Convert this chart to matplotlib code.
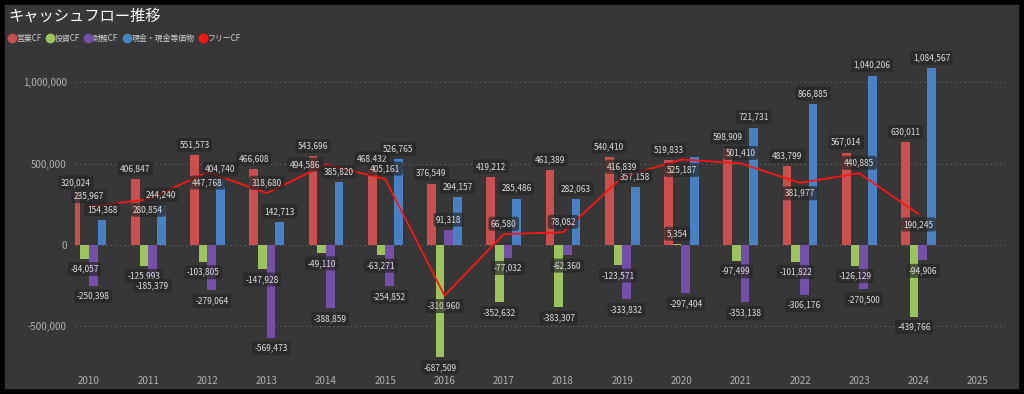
import matplotlib
matplotlib.use("Agg")
import matplotlib.pyplot as plt
import numpy as np
from matplotlib.lines import Line2D
from matplotlib.patches import Rectangle
from matplotlib.ticker import FuncFormatter

plt.rcParams['font.family'] = ['Noto Sans CJK JP', 'DejaVu Sans']

years = ['2010', '2011', '2012', '2013', '2014', '2015', '2016', '2017',
         '2018', '2019', '2020', '2021', '2022', '2023', '2024', '2025']
operating = [320024, 406847, 551573, 466608, 543696, 468432, 376549, 419212,
             461389, 540410, 519833, 598909, 483799, 567014, 630011, np.nan]
investing = [-84057, -125993, -103805, -147928, -49110, -63271, -687509, -352632,
             -383307, -123571, 5354, -97499, -101822, -126129, -439766, np.nan]
financing = [-250398, -185379, -279064, -569473, -388859, -254852, 91318, -77032,
             -62360, -333832, -297404, -353138, -306176, -270500, -94906, np.nan]
cash = [154368, 244240, 404740, 142713, 385820, 526765, 294157, 285486,
        282063, 357158, 538000, 721731, 866885, 1040206, 1084567, np.nan]
free_cf = [235967, 280854, 447768, 318680, 494586, 405161, -310960, 66580,
           78082, 416839, 525187, 501410, 381977, 440885, 190245, np.nan]

names = ['営業CF', '投資CF', '財務CF', '現金・現金等価物']
colors = ['#c9504f', '#9cc35d', '#7351a8', '#4a80c4']
line_color = '#ff1414'
bg = '#373737'

# where the free CF label sits next to its point (like Power BI placed them)
fcf_label_side = ['above', 'below', 'below', 'above', 'left', 'above', 'below', 'above',
                  'above', 'above', 'below', 'above', 'below', 'above', 'below', None]
# labels Power BI hid because of overlap
hidden = {(3, '2020')}

W, H = 1024, 394
fig = plt.figure(figsize=(W / 100, H / 100), dpi=100, facecolor=bg)
fig.patches.append(Rectangle((0, 0), 1, 1, transform=fig.transFigure, fill=False,
                             edgecolor='black', lw=7, zorder=10))

left, right, top, bottom = 75, 1005, 50, 370
ax = fig.add_axes([left / W, 1 - bottom / H, (right - left) / W, (bottom - top) / H])
ax.set_facecolor(bg)

x = np.arange(len(years))
w = 0.146
series = [operating, investing, financing, cash]
box = dict(boxstyle='round,pad=0.3', facecolor='#262626', edgecolor='none', alpha=0.7)
lab = dict(textcoords='offset points', ha='center', va='center', fontsize=6,
           color='#dcdcdc', bbox=box, zorder=4)

for i, (vals, c) in enumerate(zip(series, colors)):
    xs = x + (i - 1.5) * w
    ax.bar(xs, vals, width=w, color=c, zorder=2)
    for xi, v, yr in zip(xs, vals, years):
        if np.isnan(v) or (i, yr) in hidden:
            continue
        dy = 7.5 if v >= 0 else -7.5
        ax.annotate(f'{v:,.0f}', (xi, v), xytext=(0, dy), **lab)

ax.plot(x, free_cf, color=line_color, lw=1.3, zorder=3)
offsets = {'above': (0, 7.5), 'below': (0, -7.5), 'left': (-15, 0)}
for xi, v, side in zip(x, free_cf, fcf_label_side):
    if np.isnan(v):
        continue
    ax.annotate(f'{v:,.0f}', (xi, v), xytext=offsets[side], **lab)

ax.set_xlim(-0.236, 15.46)
ax.set_ylim(-768000, 1198000)
ax.set_yticks([-500000, 0, 500000, 1000000])
ax.yaxis.set_major_formatter(FuncFormatter(lambda v, p: f'{v:,.0f}'))
ax.set_xticks(x)
ax.set_xticklabels(years)
ax.tick_params(colors='#b0b0b0', labelsize=7, length=0, pad=6)
ax.tick_params(axis='x', pad=4)
ax.grid(axis='y', color='#676767', linestyle=(0, (1, 3)), lw=0.8, zorder=0)
for s in ax.spines.values():
    s.set_visible(False)

fig.text(8 / W, 1 - 16 / H, 'キャッシュフロー推移', color='white', fontsize=11,
         va='center', ha='left')

handles = [Line2D([], [], marker='o', ls='none', color=c, markersize=6) for c in colors]
handles.append(Line2D([], [], marker='o', ls='none', color=line_color, markersize=6))
leg = fig.legend(handles, names + ['フリーCF'], loc='center left',
                 bbox_to_anchor=(5 / W, 1 - 38 / H), ncol=5, frameon=False,
                 fontsize=5.7, handletextpad=0.15, columnspacing=0.6,
                 handlelength=0.9, borderaxespad=0)
for t in leg.get_texts():
    t.set_color('#cfcfcf')

fig.savefig('out.png', dpi=100, facecolor=bg)
